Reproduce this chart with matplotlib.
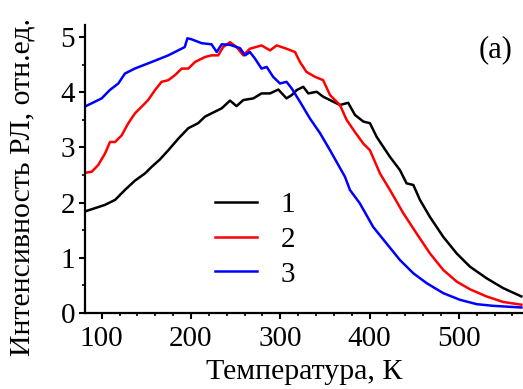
import matplotlib.pyplot as plt
from matplotlib.ticker import MultipleLocator

plt.rcParams['font.family'] = ['Liberation Serif', 'DejaVu Serif']
plt.rcParams['font.size'] = 21

# Curve 1 (black)
t1 = [81, 92.5, 103.7, 115, 126, 137.3, 148.5, 156, 165, 174.6, 185.8, 197,
      208, 215.7, 226.9, 234.4, 243.7, 251, 258.6, 269.8, 279, 288.5, 297.8,
      307, 312.8, 318.4, 325.7, 331.4, 340.8, 348, 359.3, 366.8, 376, 383.6,
      393, 400.4, 408, 422.8, 434, 441.4, 449, 456.4, 467.6, 482.5, 497.5,
      512.4, 531, 549.7, 570]
i1 = [1.84, 1.90, 1.96, 2.05, 2.23, 2.40, 2.53, 2.65, 2.78, 2.95, 3.16, 3.35,
      3.44, 3.56, 3.65, 3.71, 3.85, 3.75, 3.86, 3.89, 3.98, 3.98, 4.05,
      3.89, 3.95, 4.04, 4.10, 3.98, 4.01, 3.92, 3.83, 3.77, 3.81, 3.59,
      3.47, 3.44, 3.19, 2.83, 2.59, 2.35, 2.32, 2.05, 1.74, 1.38, 1.08,
      0.84, 0.63, 0.45, 0.30]

# Curve 2 (red)
t2 = [81, 88.8, 96, 103.7, 109.3, 115, 122.4, 129.8, 137.3, 144.8, 152,
      159.7, 167, 174.6, 182, 189.6, 197, 204.5, 215.7, 223, 230.5, 236,
      243.7, 251, 258.6, 266, 279, 288.5, 296, 307, 316.5, 322, 329.3, 339,
      348, 355.7, 366.8, 374.3, 383.6, 393, 400.4, 411.6, 422.8, 437.7,
      452.7, 467.6, 482.5, 497.5, 512.4, 531, 549.7, 570]
i2 = [2.54, 2.56, 2.68, 2.89, 3.10, 3.10, 3.22, 3.44, 3.62, 3.74, 3.86,
      4.04, 4.19, 4.22, 4.31, 4.43, 4.43, 4.55, 4.64, 4.67, 4.67, 4.82,
      4.91, 4.82, 4.67, 4.79, 4.85, 4.76, 4.85, 4.79, 4.73, 4.55, 4.37, 4.28,
      4.22, 3.95, 3.77, 3.50, 3.28, 3.07, 2.95, 2.53, 2.23, 1.81,
      1.44, 1.08, 0.78, 0.57, 0.43, 0.30, 0.20, 0.15]

# Curve 3 (blue)
t3 = [81, 100, 109, 118.6, 126, 137, 156, 174.6, 193, 196, 200.8, 212, 223,
      228.8, 234.4, 243.7, 254.9, 260.5, 266, 271.7, 279, 284.8, 292, 299.7,
      307, 312.8, 322, 333, 344.5, 355.7, 363, 372.4, 378, 389, 404, 419,
      434, 449, 464, 482.5, 501, 520, 538.5, 570]
i3 = [3.74, 3.89, 4.04, 4.16, 4.34, 4.43, 4.55, 4.67, 4.82, 4.98, 4.96,
      4.89, 4.87, 4.73, 4.87, 4.86, 4.80, 4.67, 4.73, 4.61, 4.43, 4.46,
      4.28, 4.16, 4.19, 4.07, 3.83, 3.53, 3.26, 2.95, 2.74, 2.47, 2.23,
      1.99, 1.56, 1.26, 0.96, 0.72, 0.54, 0.36, 0.24, 0.16, 0.13, 0.10]

labels = ['1', '2', '3']

fig = plt.figure(figsize=(5.23, 3.89), dpi=100)
ax = fig.add_axes([85 / 523, 76 / 389, 438 / 523, 288 / 389])

ax.plot(t1, i1, color='black', lw=1.8, label=labels[0])
ax.plot(t2, i2, color='red', lw=1.8, label=labels[1])
ax.plot(t3, i3, color='blue', lw=1.8, label=labels[2])

ax.set_xlim(81.3, 571.8)
ax.set_ylim(0, 5.22)
ax.xaxis.set_major_locator(MultipleLocator(100))
ax.xaxis.set_minor_locator(MultipleLocator(20))
ax.yaxis.set_major_locator(MultipleLocator(1))
ax.yaxis.set_minor_locator(MultipleLocator(0.5))

for side in ['top', 'right']:
    ax.spines[side].set_visible(False)
for side in ['left', 'bottom']:
    ax.spines[side].set_linewidth(1.6)

ax.tick_params(which='major', direction='out', length=4, width=1.5,
               labelsize=21)
ax.tick_params(axis='x', which='major', pad=5)
ax.tick_params(axis='y', which='major', pad=3)
ax.tick_params(which='minor', direction='out', length=2.5, width=1.2)

ax.set_xlabel('Температура, К', fontsize=21.5)
ax.set_ylabel('Интенсивность РЛ, отн.ед.', fontsize=21.5)
ax.xaxis.set_label_coords(0.5, -0.16)
ax.yaxis.set_label_coords(-0.112, 0.4375)

ax.text(0.938, 0.913, '(a)', transform=ax.transAxes, ha='center',
        va='center', fontsize=22)

ax.legend(frameon=False, loc='upper left', bbox_to_anchor=(0.297, 0.42),
          handlelength=1.45, handletextpad=0.8, labelspacing=0.28,
          fontsize=21, borderpad=0, borderaxespad=0)

plt.savefig('out.png', dpi=100)
